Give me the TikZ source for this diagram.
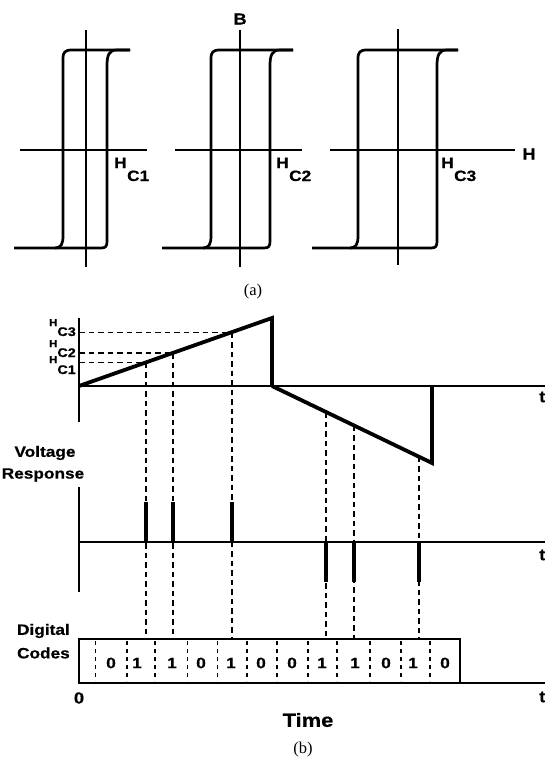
\documentclass[tikz,border=0pt]{standalone}
\usepackage{fontspec}
\setmainfont{Liberation Serif}
\newfontfamily\lab[FakeStretch=1.15, BoldFeatures={FakeBold=0.6}]{Liberation Sans}
\newcommand{\hysloop}[4]{%
 \draw[loopline] (#3,50) -- ({#1+9},50) .. controls ({#1+2},50) and (#1,52) .. (#1,59) -- (#1,236) .. controls (#1,244) and ({#1-2},248) .. ({#1-8},248) -- (#4,248);
 \draw[loopline] ({#1-8},248) -- ({#2-6},248) .. controls ({#2-1},248) and (#2,246) .. (#2,241) -- (#2,66) .. controls (#2,55) and ({#2+2},50) .. ({#2+10},50) -- (#3,50);
}
\newcommand{\fs}[1]{\fontsize{#1}{#1}\selectfont}
\begin{document}
\begin{tikzpicture}[x=1pt,y=-1pt,
  axis/.style={line width=1.7pt},
  loopline/.style={line width=2.7pt, line join=round},
  ramp/.style={line width=3.8pt, line join=miter},
  guide/.style={line width=1.3pt, dash pattern=on 5.5pt off 4pt},
  divider/.style={line width=1.2pt, dash pattern=on 4pt off 4pt},
  pulse/.style={line width=3.8pt},
  lbl/.style={font=\lab\bfseries\fs{15}, inner sep=0pt},
  captext/.style={font=\fs{16.5}, inner sep=0pt}]
\useasboundingbox (0,0) rectangle (545,765);
% ---------- (a) hysteresis loops ----------
\draw[axis] (20,150) -- (147,150);
\draw[axis] (86,30) -- (86,267);
\draw[axis] (175,150) -- (302,150);
\draw[axis] (240,30) -- (240,267);
\draw[axis] (330,150) -- (515,150);
\draw[axis] (398,29) -- (398,265);
\hysloop{63}{107}{130}{14}
\hysloop{211}{270}{293}{162}
\hysloop{358}{437}{458}{312}
\node[lbl, font=\lab\bfseries\fs{16}] (B) at (240,19) {B};
\node[lbl, font=\lab\bfseries\fs{16}] (Hax) at (529,154) {H};
\node[lbl, anchor=base west] (hc1) at (114,168) {H\kern0.5pt\raisebox{-13pt}{C1}};
\node[lbl, anchor=base west] (hc2) at (276,168) {H\kern0.5pt\raisebox{-13pt}{C2}};
\node[lbl, anchor=base west] (hc3) at (441,168) {H\kern0.5pt\raisebox{-13pt}{C3}};
\node[captext] (capa) at (253,292) {(a)};
% ---------- (b) field ramp ----------
\coordinate (O1) at (79,386);
\coordinate (P) at (272,318);
\coordinate (Q) at (272,386);
\coordinate (R) at (432,463);
\coordinate (S) at (432,386);
\coordinate (c1) at (146,362.5);
\coordinate (c2) at (173,353);
\coordinate (c3) at (232,332.5);
\coordinate (c4) at (326,412);
\coordinate (c5) at (354,425.5);
\coordinate (c6) at (419,456.5);
\coordinate (a1) at (79,362.5);
\coordinate (a2) at (79,353);
\coordinate (a3) at (79,332.5);
\draw[axis] (79,318) -- (79,422);
\draw[axis] (O1) -- (545,386);
\draw[ramp] (O1) -- (P) -- (Q);
\draw[ramp] (Q) -- (R) -- (S);
\draw[guide] (a1) -- (c1);
\draw[guide] (a2) -- (c2);
\draw[guide] (a3) -- (c3);
\node[lbl, anchor=base east] (l3) at (76,326) {{\fs{10}H}\raisebox{-10pt}{\fs{12.5}C3}};
\node[lbl, anchor=base east] (l2) at (76,347) {{\fs{10}H}\raisebox{-10pt}{\fs{12.5}C2}};
\node[lbl, anchor=base east] (l1) at (76,363) {{\fs{10}H}\raisebox{-11pt}{\fs{12.5}C1}};
\node[lbl, font=\lab\bfseries\fs{16}, anchor=west] (t1) at (539,397) {t};
% ---------- voltage response ----------
\node[lbl] (volt) at (45,453) {Voltage};
\node[lbl] (resp) at (43,475) {Response};
\draw[axis] (79,487) -- (79,592);
\draw[axis] (79,542) -- (545,542);
\node[lbl, font=\lab\bfseries\fs{16}, anchor=west] (t2) at (539,555) {t};
% ---------- digital codes box ----------
\coordinate (d1) at (146,639);
\coordinate (d2) at (173,639);
\coordinate (d3) at (232,639);
\coordinate (d4) at (326,639);
\coordinate (d5) at (354,639);
\coordinate (d6) at (419,639);
\draw[guide] (c1) -- (d1);
\draw[guide] (c2) -- (d2);
\draw[guide] (c3) -- (d3);
\draw[guide] (c4) -- (d4);
\draw[guide] (c5) -- (d5);
\draw[guide] (c6) -- (d6);
\draw[pulse] (146,502) -- (146,542);
\draw[pulse] (173,502) -- (173,542);
\draw[pulse] (232,502) -- (232,542);
\draw[pulse] (326,542) -- (326,582);
\draw[pulse] (354,542) -- (354,582);
\draw[pulse] (419,542) -- (419,582);
\node[lbl, anchor=east] (dig) at (70,631) {Digital};
\node[lbl, anchor=east] (cod) at (70,653) {Codes};
\draw[line width=2.2pt] (79,639) rectangle (460,683);
\draw[line width=2.2pt] (79,683) -- (545,683);
\foreach \x in {95.7,127,155,187.5,217.5,247,277,308,337,370,401,430}
  \draw[divider] (\x,641) -- (\x,681);
\foreach \x/\v [count=\i] in {111/0,137/1,172/1,201/0,231/1,261/0,292/0,322/1,355/1,386/0,413/1,445/0}
  \node[lbl] (bit\i) at (\x,663) {\v};
\node[lbl, font=\lab\bfseries\fs{16}] (zero) at (79,698) {0};
\node[lbl, font=\lab\bfseries\fs{16}, anchor=west] (t3) at (539,697) {t};
\node[lbl, font=\lab\bfseries\fs{19}] (time) at (308,720) {Time};
\node[captext] (capb) at (303,750) {(b)};
\end{tikzpicture}
\end{document}
